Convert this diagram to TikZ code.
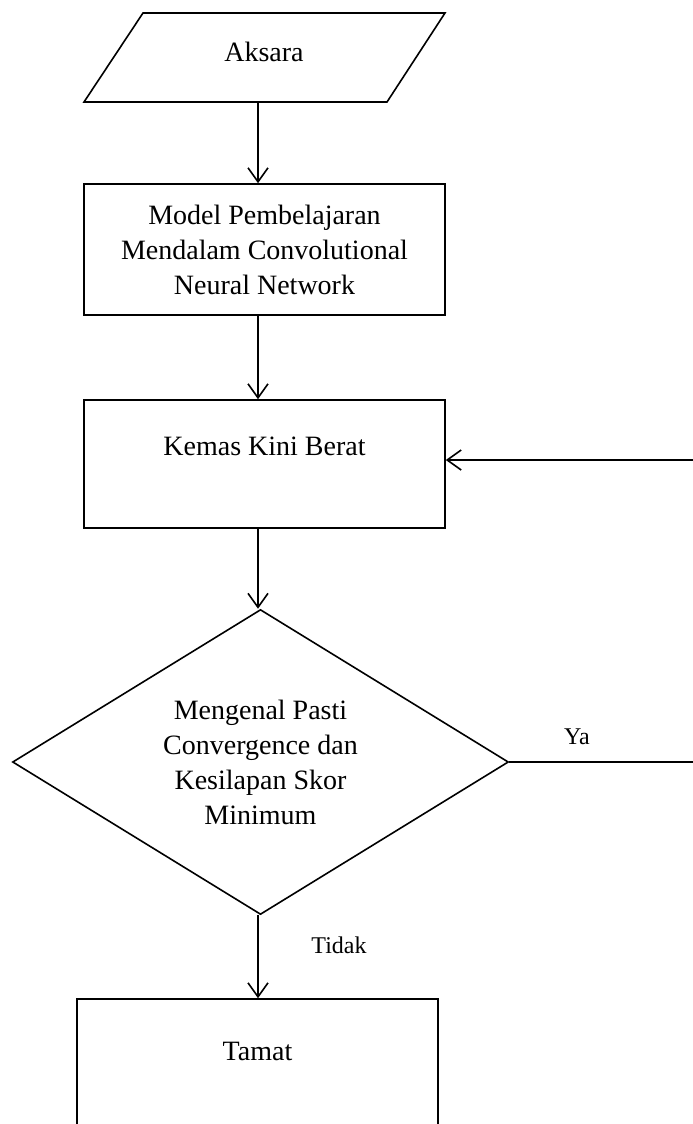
\documentclass[tikz,border=0pt]{standalone}
\usepackage{fontspec}
\setmainfont{Liberation Serif}
\usetikzlibrary{positioning,arrows.meta,shapes.geometric}

\begin{document}
\begin{tikzpicture}[x=0.5pt,y=-0.5pt,line width=0.8pt,
  font=\fontsize{14}{17.5}\selectfont,
  box/.style={draw, rectangle, minimum width=180.5pt, align=center, inner sep=0pt},
  dec/.style={draw, diamond, aspect=1.63, minimum width=248pt, minimum height=152.5pt, inner sep=0pt, align=center},
  lbl/.style={font=\fontsize{12}{14}\selectfont},
  arr/.style={-{Straight Barb[length=7pt,width=10pt]}}]
\useasboundingbox[fill=white] (0,0) rectangle (692,1124);

% input
\draw (143,13) -- (445,13) -- (387,102) -- (84,102) -- cycle;
\node (aks) at (264,52) {Aksara};
\coordinate (aksb) at (258,102);

% steps
\node[box, minimum height=65.5pt] (mdl) at (264.5,249.5) {Model Pembelajaran\\Mendalam Convolutional\\Neural Network};
\node[box, minimum height=64pt] (kemas) at (264.5,464) {Kemas Kini Berat\\ \mbox{}};
\node[dec] (dia) at (260.5,762) {Mengenal Pasti\\Convergence dan\\Kesilapan Skor\\Minimum};
\node[box, minimum height=70pt] (tamat) at (257.5,1069) {Tamat\\ \mbox{}};

% loop back (runs past the right edge)
\coordinate (loopa) at (706,762);
\coordinate (loopb) at (706,460);

\draw[arr] (aksb) -- (aksb |- mdl.north);
\draw[arr] (aksb |- mdl.south) -- (aksb |- kemas.north);
\draw[arr] (aksb |- kemas.south) -- (aksb |- dia.north);
\draw[arr] (aksb |- dia.south) -- (aksb |- tamat.north);
\draw[arr] (dia.east) -- (loopa) -- (loopb) -- (kemas.east |- loopb);

\node[lbl] (ya) at (577,737) {Ya};
\node[lbl] (tdk) at (339,945) {Tidak};
\end{tikzpicture}
\end{document}
